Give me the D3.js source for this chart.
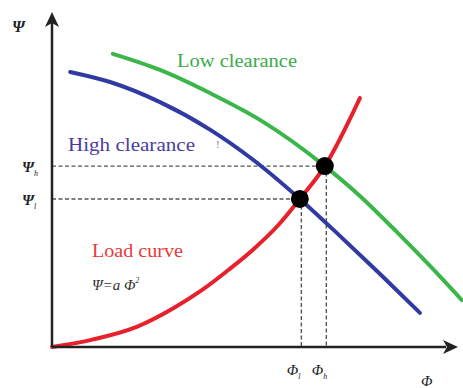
<!DOCTYPE html>
<html>
<head>
<meta charset="utf-8">
<script src="https://cdn.jsdelivr.net/npm/d3@7"></script>
<style>
  html, body { margin: 0; padding: 0; background: #fff; }
  svg { display: block; }
  #chart, #chart text, #chart tspan { font-family: "Liberation Serif", "Times New Roman", Tinos, serif !important; }
</style>
</head>
<body>
<svg id="chart" width="463" height="388" font-family="Liberation Serif, Times New Roman, serif"></svg>
<script>
// Fan characteristic curves (Φ = flow, Ψ = pressure), in relative units 0–100
const highClearance = [[4.5, 82.1], [14.4, 79.1], [26.8, 73.1], [39.2, 64.9], [49.9, 55.9], [61.5, 44.2], [71.5, 33.1], [81.4, 21.8], [91.3, 10.2]];
const lowClearance = [[15.1, 87.5], [26.8, 82.7], [39.2, 75.8], [51.6, 67.8], [67.7, 54.0], [76.4, 45.1], [85.6, 34.3], [93.8, 24.2], [101.7, 14.0]];
const loadCurve = [[0, 0], [10, 2.2], [21, 6.0], [30, 11.5], [37, 16.8], [44, 23.2], [50, 29.2], [56, 36.2], [61.5, 44.2], [67.7, 54.0], [76.4, 74.3]];
// Operating points where the load curve crosses each fan curve
const operatingPoints = [
  { name: "l", phi: 61.5, psi: 44.2 },
  { name: "h", phi: 67.7, psi: 54.0 }
];

const svg = d3.select("#chart");
const x = d3.scaleLinear().domain([0, 100]).range([52, 455]);
const y = d3.scaleLinear().domain([0, 100]).range([347, 12]);

// Guide lines from each operating point to the axes
const guides = svg.append("g")
  .attr("stroke", "#555").attr("stroke-width", 1.4)
  .attr("stroke-dasharray", "4,2.5").attr("fill", "none");
operatingPoints.forEach(p => {
  guides.append("line")
    .attr("x1", x(0)).attr("x2", x(p.phi)).attr("y1", y(p.psi)).attr("y2", y(p.psi));
  guides.append("line")
    .attr("x1", x(p.phi) + 1.5).attr("x2", x(p.phi) + 1.5).attr("y1", y(p.psi)).attr("y2", y(0));
});

const line = d3.line().x(d => x(d[0])).y(d => y(d[1])).curve(d3.curveMonotoneX);

svg.append("path").datum(highClearance).attr("d", line)
  .attr("fill", "none").attr("stroke", "#2f3aa3").attr("stroke-width", 4).attr("stroke-linecap", "round");
svg.append("path").datum(lowClearance).attr("d", line)
  .attr("fill", "none").attr("stroke", "#3cb64a").attr("stroke-width", 4).attr("stroke-linecap", "round");
svg.append("path").datum(loadCurve).attr("d", line)
  .attr("fill", "none").attr("stroke", "#e8202c").attr("stroke-width", 4).attr("stroke-linecap", "round");

// Axes with arrowheads
const axisColor = "#222";
svg.append("line").attr("x1", x(0)).attr("y1", y(0)).attr("x2", x(0)).attr("y2", 22)
  .attr("stroke", axisColor).attr("stroke-width", 2.5);
svg.append("line").attr("x1", x(0)).attr("y1", y(0)).attr("x2", 446).attr("y2", y(0))
  .attr("stroke", axisColor).attr("stroke-width", 2.5);
svg.append("path")
  .attr("d", `M${x(0)},12 L${x(0) - 7},27 L${x(0)},23 L${x(0) + 7},27 Z`)
  .attr("fill", axisColor);
svg.append("path")
  .attr("d", `M458,${y(0)} L443,${y(0) - 7} L447,${y(0)} L443,${y(0) + 7} Z`)
  .attr("fill", axisColor);

// Operating point markers
svg.append("g").selectAll("circle").data(operatingPoints).join("circle")
  .attr("cx", d => x(d.phi)).attr("cy", d => y(d.psi)).attr("r", 9).attr("fill", "#000");

// Text labels in a serif face
const label = (tx, ty, text, size, opts = {}) => {
  const t = svg.append("text").attr("x", tx).attr("y", ty)
    .attr("font-family", "Liberation Serif")
    .attr("font-size", size)
    .attr("fill", opts.fill || "#222");
  if (opts.italic) t.attr("font-style", "italic");
  if (opts.bold) t.attr("font-weight", "bold");
  t.text(text);
  if (opts.len) t.attr("textLength", opts.len).attr("lengthAdjust", "spacingAndGlyphs");
  return t;
};
const sub = (t, s, dy, size) =>
  t.append("tspan").attr("font-size", size).attr("font-weight", "normal").attr("dy", dy).text(s);

// Axis symbols
label(12, 32, "Ψ", 16, { italic: true, bold: true });
label(421, 386, "Φ", 15, { italic: true });

operatingPoints.forEach(p => {
  sub(label(22, y(p.psi) + 6, "Ψ", 15, { italic: true, bold: true }), p.name, 4, 8);
  sub(label(x(p.phi) - 13, 375, "Φ", 15, { italic: true }), p.name, 4, 8);
});

// Curve labels
label(177, 67, "Low clearance", 18, { fill: "#3aaa4a", len: 120 });
label(68, 151, "High clearance", 18, { fill: "#4a3d9e", len: 127 });
label(216, 148, "!", 11, { fill: "#7a74a8" });
label(92, 257, "Load curve", 18, { fill: "#e83a3c", len: 91 });
const eq = label(92, 290, "Ψ=", 15, { italic: true, fill: "#333" });
eq.append("tspan").text("a ");
eq.append("tspan").text("Φ");
sub(eq, "2", -7, 8);
</script>
</body>
</html>
